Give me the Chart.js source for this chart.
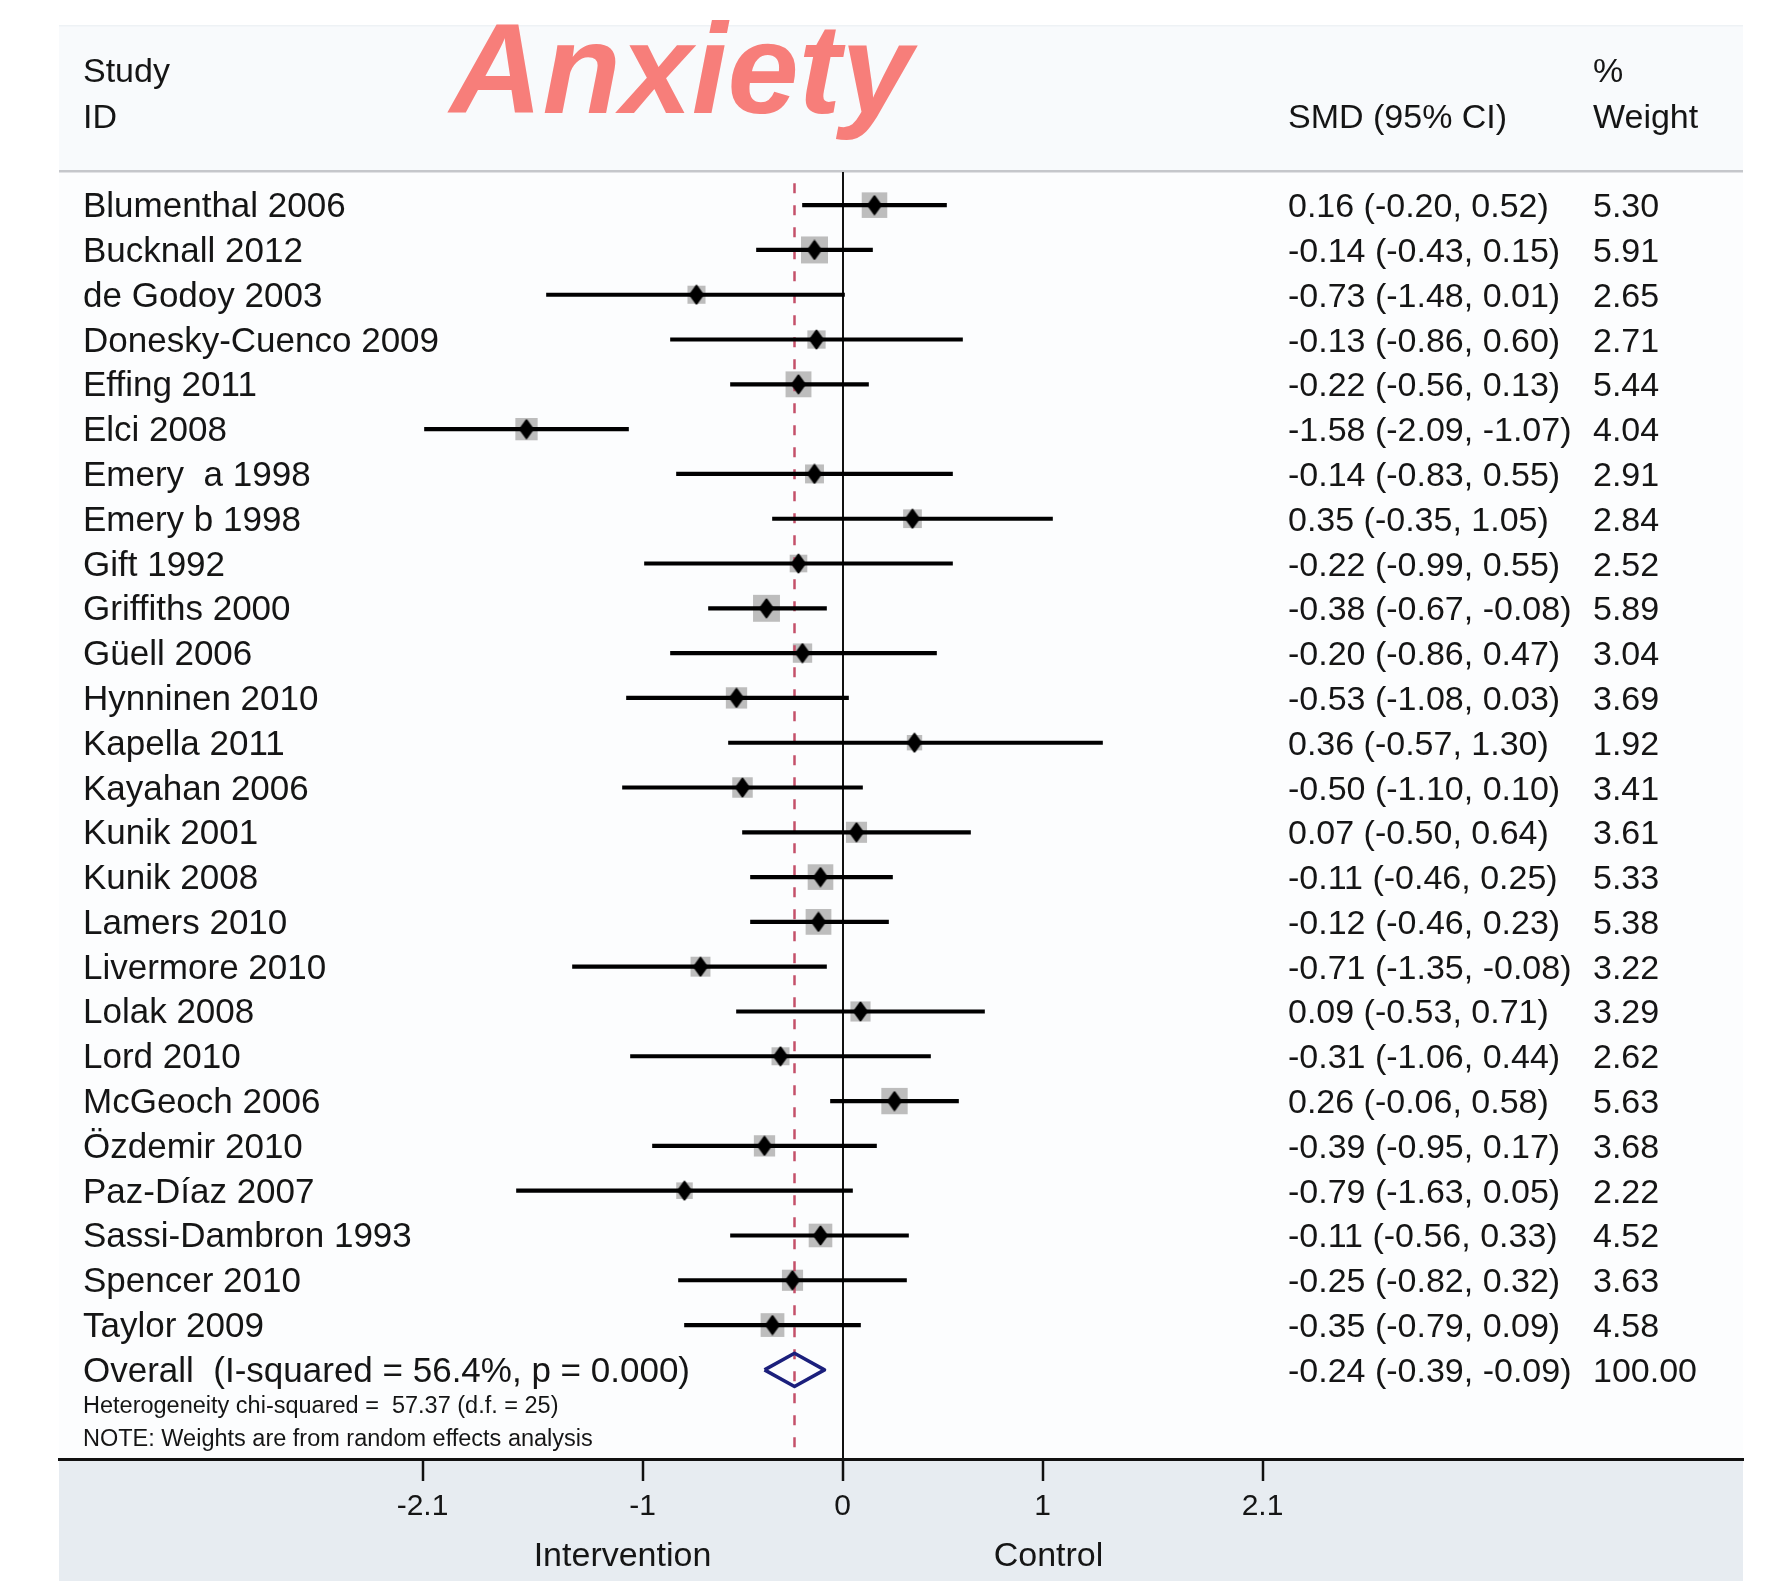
<!DOCTYPE html>
<html>
<head>
<meta charset="utf-8">
<title>Anxiety – forest plot</title>
<script src="https://cdn.jsdelivr.net/npm/chart.js@4/dist/chart.umd.min.js"></script>
<style>
  html, body { margin: 0; padding: 0; background: #ffffff; }
  canvas { display: block; }
</style>
</head>
<body>
<canvas id="forest" width="1772" height="1581"></canvas>
<script>
// ---- study data -------------------------------------------------------
const studies = [
  "Blumenthal 2006", "Bucknall 2012", "de Godoy 2003", "Donesky-Cuenco 2009",
  "Effing 2011", "Elci 2008", "Emery  a 1998", "Emery b 1998", "Gift 1992",
  "Griffiths 2000", "Güell 2006", "Hynninen 2010", "Kapella 2011", "Kayahan 2006",
  "Kunik 2001", "Kunik 2008", "Lamers 2010", "Livermore 2010", "Lolak 2008",
  "Lord 2010", "McGeoch 2006", "Özdemir 2010", "Paz-Díaz 2007",
  "Sassi-Dambron 1993", "Spencer 2010", "Taylor 2009"
];
const smd = [0.16, -0.14, -0.73, -0.13, -0.22, -1.58, -0.14, 0.35, -0.22, -0.38,
  -0.20, -0.53, 0.36, -0.50, 0.07, -0.11, -0.12, -0.71, 0.09, -0.31,
  0.26, -0.39, -0.79, -0.11, -0.25, -0.35];
const ciLow = [-0.20, -0.43, -1.48, -0.86, -0.56, -2.09, -0.83, -0.35, -0.99, -0.67,
  -0.86, -1.08, -0.57, -1.10, -0.50, -0.46, -0.46, -1.35, -0.53, -1.06,
  -0.06, -0.95, -1.63, -0.56, -0.82, -0.79];
const ciHigh = [0.52, 0.15, 0.01, 0.60, 0.13, -1.07, 0.55, 1.05, 0.55, -0.08,
  0.47, 0.03, 1.30, 0.10, 0.64, 0.25, 0.23, -0.08, 0.71, 0.44,
  0.58, 0.17, 0.05, 0.33, 0.32, 0.09];
const weights = [5.30, 5.91, 2.65, 2.71, 5.44, 4.04, 2.91, 2.84, 2.52, 5.89,
  3.04, 3.69, 1.92, 3.41, 3.61, 5.33, 5.38, 3.22, 3.29, 2.62,
  5.63, 3.68, 2.22, 4.52, 3.63, 4.58];

// pooled (random effects) estimate
const overallSmd = -0.24;
const overallLow = -0.39;
const overallHigh = -0.09;
const overallWeight = 100.00;
const overallLabel = "Overall  (I-squared = 56.4%, p = 0.000)";
const heterogeneityNote = "Heterogeneity chi-squared =  57.37 (d.f. = 25)";
const weightsNote = "NOTE: Weights are from random effects analysis";

// axis text
const tickValues = [-2.1, -1, 0, 1, 2.1];
const sideLabels = ["Intervention", "Control"];
const plotTitle = "Anxiety";

// ---- scale ranges ----------------------------------------------------
const X_MIN = -3.9175, X_MAX = 4.5025;
const Y_MIN = -0.74, Y_MAX = 27.99;
const overallRow = studies.length;

const FONT = '"Liberation Sans", Arial, Helvetica, sans-serif';
const TEXT = '#151515';
const fmt = v => v.toFixed(2);

// black point marker: a small upright diamond
function makeDot() {
  const c = document.createElement('canvas');
  c.width = 16; c.height = 21;
  const g = c.getContext('2d');
  g.fillStyle = '#000';
  g.strokeStyle = '#000';
  g.lineJoin = 'round';
  g.lineWidth = 2;
  g.beginPath();
  g.moveTo(8, 1.5); g.lineTo(14.5, 10.5); g.lineTo(8, 19.5); g.lineTo(1.5, 10.5);
  g.closePath();
  g.fill(); g.stroke();
  return c;
}
const dotImage = makeDot();

// ---- panel backgrounds and text columns ------------------------------
const forestPanel = {
  id: 'forestPanel',
  beforeDraw(chart) {
    const { ctx, chartArea: a, width, height } = chart;
    const w = a.right - a.left;
    ctx.save();
    ctx.fillStyle = '#ffffff';
    ctx.fillRect(0, 0, width, height);
    ctx.fillStyle = '#f8fafc';
    ctx.fillRect(a.left, 25, w, a.top - 25);
    ctx.fillStyle = '#eef2f5';
    ctx.fillRect(a.left, 25, w, 1.5);
    ctx.fillStyle = '#fcfdfe';
    ctx.fillRect(a.left, a.top, w, a.bottom - a.top);
    ctx.fillStyle = '#e7ecf1';
    ctx.fillRect(a.left, a.bottom, w, height - a.bottom);
    ctx.fillStyle = '#c5c7cb';
    ctx.fillRect(a.left, a.top - 2, w, 2.5);
    ctx.restore();
  },
  afterDraw(chart) {
    const { ctx, chartArea: a } = chart;
    const y = chart.scales.y;
    const colStudy = a.left + 24;
    const colSmd = 1288;
    const colWeight = 1593;
    ctx.save();
    ctx.textAlign = 'left';
    ctx.textBaseline = 'alphabetic';

    // title
    ctx.fillStyle = '#f77e7a';
    ctx.font = 'italic bold 128px ' + FONT;
    ctx.fillText(plotTitle, 450, 113);

    // column headers
    ctx.fillStyle = TEXT;
    ctx.font = '34px ' + FONT;
    ctx.fillText('Study', colStudy, 82);
    ctx.fillText('ID', colStudy, 128);
    ctx.fillText('SMD (95% CI)', colSmd, 128);
    ctx.fillText('%', colWeight, 82);
    ctx.fillText('Weight', colWeight, 128);

    // study rows
    studies.forEach((name, i) => {
      const py = y.getPixelForValue(i) + 12;
      ctx.font = '35px ' + FONT;
      ctx.fillText(name, colStudy, py);
      ctx.font = '34px ' + FONT;
      ctx.fillText(`${fmt(smd[i])} (${fmt(ciLow[i])}, ${fmt(ciHigh[i])})`, colSmd, py);
      ctx.fillText(fmt(weights[i]), colWeight, py);
    });

    // pooled row
    const oy = y.getPixelForValue(overallRow);
    ctx.font = '35px ' + FONT;
    ctx.fillText(overallLabel, colStudy, oy + 12);
    ctx.font = '34px ' + FONT;
    ctx.fillText(`${fmt(overallSmd)} (${fmt(overallLow)}, ${fmt(overallHigh)})`, colSmd, oy + 12);
    ctx.fillText(fmt(overallWeight), colWeight, oy + 12);

    ctx.font = '23.5px ' + FONT;
    ctx.fillText(heterogeneityNote, colStudy, oy + 43);
    ctx.fillText(weightsNote, colStudy, oy + 76);
    ctx.restore();
  }
};

// ---- datasets --------------------------------------------------------
const rowPoints = studies.map((s, i) => ({ x: smd[i], y: i }));
const diamondHalf = 0.37;

new Chart(document.getElementById('forest'), {
  type: 'scatter',
  data: {
    datasets: [
      {
        // weight boxes, area proportional to study weight
        label: 'weight',
        data: rowPoints,
        pointStyle: 'rect',
        pointRadius: c => 7.85 * Math.sqrt(weights[c.dataIndex]),
        backgroundColor: '#bdbdbd',
        borderWidth: 0,
        order: 5
      },
      {
        // pooled estimate reference line
        label: 'pooled line',
        data: [{ x: overallSmd, y: Y_MIN + 0.25 }, { x: overallSmd, y: Y_MAX }],
        showLine: true,
        borderColor: '#c4506a',
        borderWidth: 2.5,
        borderDash: [10, 12],
        pointRadius: 0,
        order: 4
      },
      {
        // 95% confidence intervals
        type: 'bar',
        label: 'ci',
        indexAxis: 'y',
        data: studies.map((s, i) => ({ x: [ciLow[i], ciHigh[i]], y: i })),
        backgroundColor: '#000',
        borderWidth: 0,
        barThickness: 3.5,
        order: 3
      },
      {
        // pooled estimate diamond
        label: 'overall',
        data: [
          { x: overallLow, y: overallRow },
          { x: overallSmd, y: overallRow - diamondHalf },
          { x: overallHigh, y: overallRow },
          { x: overallSmd, y: overallRow + diamondHalf },
          { x: overallLow, y: overallRow }
        ],
        showLine: true,
        borderColor: '#1b1f7c',
        borderWidth: 3.5,
        borderJoinStyle: 'round',
        pointRadius: 0,
        order: 2
      },
      {
        // point estimates
        label: 'smd',
        data: rowPoints,
        pointStyle: dotImage,
        pointRadius: 7,
        order: 1
      }
    ]
  },
  options: {
    responsive: false,
    animation: false,
    events: [],
    devicePixelRatio: 1,
    layout: { padding: { left: 59, right: 29, top: 172, bottom: 0 } },
    plugins: { legend: { display: false }, tooltip: { enabled: false }, title: { display: false } },
    scales: {
      x: {
        type: 'linear', position: 'bottom', min: X_MIN, max: X_MAX, weight: 0, offset: false,
        afterBuildTicks: s => { s.ticks = tickValues.map(v => ({ value: v })); },
        afterFit: s => { s.height = 71; },
        ticks: {
          callback: v => String(v),
          font: { family: FONT, size: 30 }, color: TEXT,
          padding: 8, autoSkip: false, maxRotation: 0
        },
        grid: {
          offset: false,
          drawOnChartArea: true,
          color: c => (c.tick && c.tick.value === 0) ? '#111' : 'rgba(0,0,0,0)',
          lineWidth: 2,
          tickLength: 22, tickColor: '#111', tickWidth: 2.5
        },
        border: { display: true, color: '#111', width: 3 }
      },
      x2: {
        type: 'linear', position: 'bottom', min: X_MIN, max: X_MAX, weight: 1, offset: false,
        afterBuildTicks: s => { s.ticks = [{ value: -1.1 }, { value: 1.03 }]; },
        afterFit: s => { s.height = 51; },
        ticks: {
          callback: (v, i) => sideLabels[i],
          font: { family: FONT, size: 34 }, color: TEXT,
          padding: 6, autoSkip: false, maxRotation: 0
        },
        grid: { display: false, drawTicks: false },
        border: { display: false }
      },
      y: {
        type: 'linear', display: false, reverse: true, min: Y_MIN, max: Y_MAX,
        offset: false, grid: { offset: false }
      }
    }
  },
  plugins: [forestPanel]
});
</script>
</body>
</html>
